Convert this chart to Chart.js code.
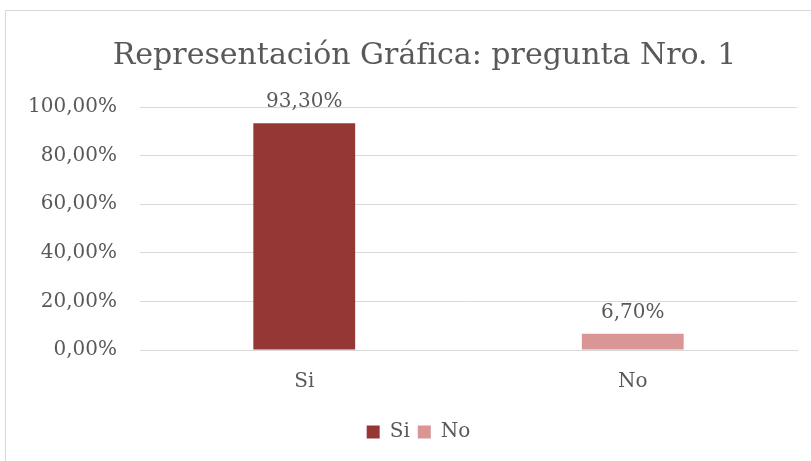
<!DOCTYPE html>
<html lang="es">
<head>
<meta charset="utf-8">
<title>Representación Gráfica: pregunta Nro. 1</title>
<script src="https://cdn.jsdelivr.net/npm/chart.js@4.4.1/dist/chart.umd.min.js"></script>
<style>
  html, body { margin: 0; padding: 0; background: #fff; overflow: hidden; }
  #wrap { position: relative; width: 811px; height: 461px; }
  #frame {
    position: absolute; left: 5px; top: 10px; width: 900px; height: 500px;
    border: 1px solid #d9d9d9; pointer-events: none;
  }
  canvas { position: absolute; left: 0; top: 0; }
</style>
</head>
<body>
<div id="wrap">
  <canvas id="chart" width="811" height="461"></canvas>
  <div id="frame"></div>
</div>
<script>
// data
const categories = ['Si', 'No'];
const percentages = [0.933, 0.067];
const barColors = ['#953735', '#d99694'];
const yTicks = [0, 0.2, 0.4, 0.6, 0.8, 1];

const textColor = '#595959';
const fontFamily = "'DejaVu Serif', Cambria, serif";

// "93,30%" style, comma as decimal separator
const fmtPct = v => (v * 100).toFixed(2).replace('.', ',') + '%';

// small plugin to put the value above each bar
const barValueLabels = {
  id: 'barValueLabels',
  afterDatasetsDraw(chart) {
    const ctx = chart.ctx;
    const meta = chart.getDatasetMeta(0);
    ctx.save();
    ctx.font = '20px ' + fontFamily;
    ctx.fillStyle = textColor;
    ctx.textAlign = 'center';
    ctx.textBaseline = 'alphabetic';
    meta.data.forEach((bar, i) => {
      ctx.fillText(fmtPct(percentages[i]), bar.x, bar.y - 16);
    });
    ctx.restore();
  }
};

// the original centres title and legend a little right of the canvas middle
const nudgeBlocks = {
  id: 'nudgeBlocks',
  afterLayout(chart) {
    if (chart.titleBlock) { chart.titleBlock.left += 12; chart.titleBlock.right += 12; }
    if (chart.legend) { chart.legend.left += 6; chart.legend.right += 6; }
  }
};

new Chart(document.getElementById('chart'), {
  type: 'bar',
  data: {
    labels: categories,
    datasets: [{
      label: 'Pregunta 1',
      data: percentages,
      backgroundColor: barColors,
      borderWidth: 0,
      categoryPercentage: 1,
      barPercentage: 0.31
    }]
  },
  options: {
    responsive: false,
    animation: false,
    layout: { padding: { top: 0, right: 14, bottom: 9, left: 28 } },
    scales: {
      x: {
        grid: { display: false },
        border: { display: true, color: '#d9d9d9' },
        ticks: {
          color: textColor,
          font: { family: fontFamily, size: 20 },
          padding: 12
        },
        afterFit(scale) { scale.height = 64; }
      },
      y: {
        min: yTicks[0],
        max: yTicks[yTicks.length - 1],
        afterFit(scale) { scale.width = 112; },
        grid: { color: '#d9d9d9', drawTicks: false },
        border: { display: false },
        ticks: {
          stepSize: yTicks[1] - yTicks[0],
          color: textColor,
          font: { family: fontFamily, size: 20 },
          padding: 23,
          callback: v => fmtPct(v)
        }
      }
    },
    plugins: {
      title: {
        display: true,
        text: 'Representación Gráfica: pregunta Nro. 1',
        color: textColor,
        font: { family: fontFamily, size: 30, weight: 'normal' },
        padding: { top: 38, bottom: 33 }
      },
      legend: {
        position: 'bottom',
        onClick: null,
        labels: {
          color: textColor,
          font: { family: fontFamily, size: 20 },
          boxWidth: 13,
          boxHeight: 13,
          padding: 8,
          generateLabels: () => categories.map((c, i) => ({
            text: c,
            fillStyle: barColors[i],
            strokeStyle: barColors[i],
            lineWidth: 0,
            fontColor: textColor,
            index: i
          }))
        }
      },
      tooltip: { enabled: false }
    }
  },
  plugins: [barValueLabels, nudgeBlocks]
});
</script>
</body>
</html>
